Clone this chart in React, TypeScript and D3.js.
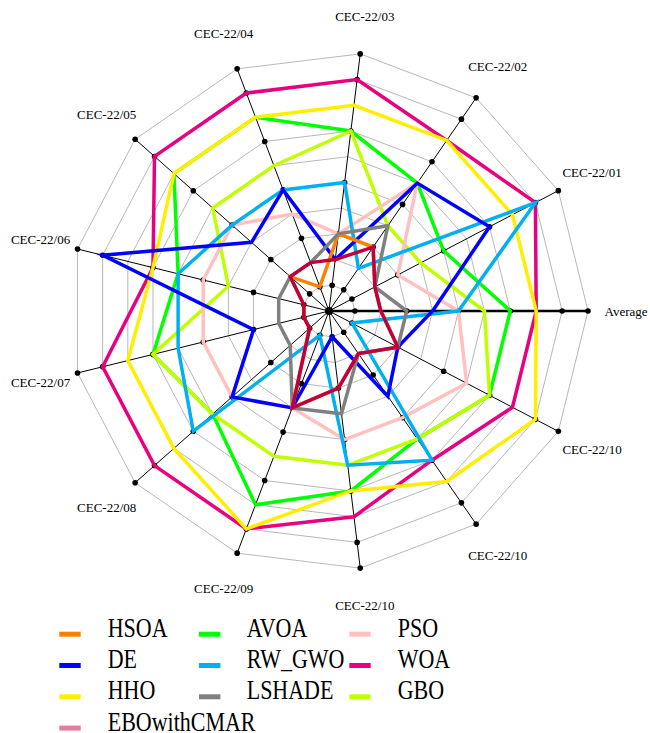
import React from 'react';
import * as d3 from 'd3';

const axes = [
  'Average', 'CEC-22/01', 'CEC-22/02', 'CEC-22/03', 'CEC-22/04', 'CEC-22/05', 'CEC-22/06',
  'CEC-22/07', 'CEC-22/08', 'CEC-22/09', 'CEC-22/10', 'CEC-22/10', 'CEC-22/10',
];
const gridLevels = [1, 2, 3, 4, 5, 6, 7, 8, 9, 10];
const dotLevels = [1, 3, 5, 7, 9, 10];

const HSOA = [2, 2, 3, 3, 1, 2, 1, 1, 1, 4, 3, 2, 3];
const DE = [4, 7, 6, 2, 5, 4, 9, 3, 5, 4, 1, 4, 3];
const HHO = [8, 8, 8, 8, 8, 8, 7, 8, 8, 9, 7, 8, 9];
const EBOwithCMAR = [2, 2, 3, 2, 2, 2, 1, 1, 1, 4, 3, 2, 3];
const AVOA = [7, 5, 6, 7, 8, 8, 6, 7, 6, 8, 7, 6, 7];
const RW_GWO = [5, 9, 2, 5, 5, 5, 6, 6, 7, 1, 6, 7, 1];
const LSHADE = [3, 2, 4, 3, 2, 2, 2, 2, 2, 4, 4, 2, 3];
const PSO = [5, 3, 6, 3, 4, 5, 5, 5, 5, 4, 5, 5, 6];
const WOA = [8, 9, 8, 9, 9, 9, 7, 9, 9, 9, 8, 7, 8];
const GBO = [6, 4, 4, 7, 6, 6, 4, 7, 6, 6, 6, 6, 7];

const legendNames = ['HSOA', 'DE', 'HHO', 'EBOwithCMAR', 'AVOA', 'RW_GWO', 'LSHADE', 'PSO', 'WOA', 'GBO'];
const legendValues = [HSOA, DE, HHO, EBOwithCMAR, AVOA, RW_GWO, LSHADE, PSO, WOA, GBO];
const lineColors = ['#ff8000', '#0000ff', '#ffee00', '#c0003e', '#00ff00', '#00b0f0', '#808080', '#ffc0c0', '#e8007f', '#bfff00'];
const swatchColors = ['#ff8000', '#0000ff', '#ffee00', '#e07fa0', '#00ff00', '#00b0f0', '#808080', '#ffc0c0', '#e8007f', '#bfff00'];
// drawing order (indices into legend arrays), bottom first
const drawOrder = [8, 4, 2, 9, 7, 5, 1, 0, 6, 3];

export default function App() {
  const cx = 329;
  const cy = 311;
  const n = axes.length;
  const r = d3.scaleLinear().domain([0, 10]).range([0, 259]);
  const ang = (i: number) => (i * 2 * Math.PI) / n;
  const px = (i: number, v: number) => r(v) * Math.cos(ang(i));
  const py = (i: number, v: number) => -r(v) * Math.sin(ang(i));

  const radial = d3
    .lineRadial<number>()
    .angle((_d, i) => Math.PI / 2 - ang(i))
    .radius((d) => r(d))
    .curve(d3.curveLinearClosed);

  const serif = '"Liberation Serif", "Times New Roman", serif';

  return (
    <svg
      width={650}
      height={733}
      style={{ position: 'absolute', left: 0, top: 0, background: '#fff' }}
    >
      <g transform={`translate(${cx},${cy})`}>
        {gridLevels.map((lv) => (
          <path
            key={`g${lv}`}
            d={radial(axes.map(() => lv)) || ''}
            fill="none"
            stroke="#b8b8b8"
            strokeWidth={1}
          />
        ))}
        {axes.map((_a, i) => (
          <line
            key={`a${i}`}
            x1={0}
            y1={0}
            x2={px(i, 10)}
            y2={py(i, 10)}
            stroke="#000"
            strokeWidth={i === 0 ? 2.5 : 1}
          />
        ))}
        {axes.map((_a, i) =>
          dotLevels.map((lv) => (
            <circle key={`d${i}-${lv}`} cx={px(i, lv)} cy={py(i, lv)} r={2.8} fill="#000" />
          ))
        )}
        <circle cx={0} cy={0} r={4} fill="#000" />
        {drawOrder.map((si) => (
          <path
            key={`s${si}`}
            d={radial(legendValues[si]) || ''}
            fill="none"
            stroke={lineColors[si]}
            strokeWidth={3.5}
            strokeLinejoin="miter"
          />
        ))}
        {axes.map((a, i) => (
          <text
            key={`l${i}`}
            x={px(i, 11.47)}
            y={py(i, 11.47)}
            textAnchor="middle"
            dominantBaseline="central"
            fontFamily={serif}
            fontSize={13}
            fill="#000"
          >
            {a}
          </text>
        ))}
      </g>
      <g>
        {legendNames.map((name, i) => {
          const col = i < 4 ? 0 : i < 7 ? 1 : 2;
          const row = i < 4 ? i : (i - 4) % 3;
          const sx = [59.3, 199, 349.3][col];
          const tx = [107.7, 246.7, 397.7][col];
          const sy = 631.7 + row * 31.3;
          const by = 636.7 + row * 31.3;
          return (
            <g key={`lg${i}`}>
              <rect x={sx} y={sy} width={21.4} height={5} fill={swatchColors[i]} />
              <text
                transform={`translate(${tx},${by}) scale(1,1.2)`}
                fontFamily={serif}
                fontSize={22}
                fill="#000"
              >
                {name}
              </text>
            </g>
          );
        })}
      </g>
    </svg>
  );
}
